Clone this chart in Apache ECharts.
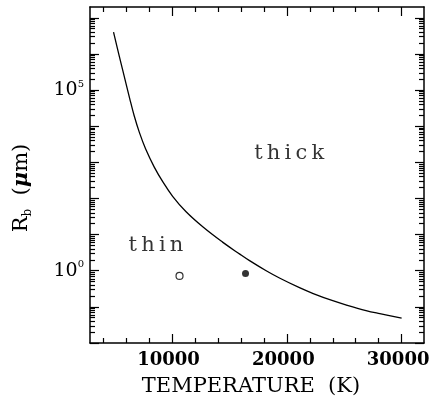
<!DOCTYPE html>
<html>
<head>
<meta charset="utf-8">
<script src="https://cdn.jsdelivr.net/npm/echarts@6/dist/echarts.min.js"></script>
<style>
  html, body { margin: 0; padding: 0; background: #fff; }
  #main { width: 430px; height: 405px; }
</style>
</head>
<body>
<div id="main"></div>
<script>
// thin / thick boundary, R_b in micron vs temperature in K
const curveT = [4900, 5400, 5700, 6300, 6700, 7150, 7700, 8450, 9200, 10050, 11200, 12700,
  14400, 15900, 16750, 18200, 19400, 21100, 22300, 24000, 25200, 26900, 28100, 30000]
const curveR = [4.0e6, 8.7e5, 3.55e5, 6.0e4, 1.95e4, 6760, 2340, 740, 288, 115, 43.6, 16.2,
  6.2, 2.88, 1.9, 1.0, 0.62, 0.34, 0.234, 0.148, 0.112, 0.079, 0.065, 0.049]

// the two objects
const openPoint = [10650, 0.72]
const filledPoint = [16400, 0.84]

// region names
const regionNames = ['thin', 'thick']
const regionT = [8600, 20200]
const regionR = [5.1, 1800]

// axes
const xRange = [2850, 31950]
const xLabels = [10000, 20000, 30000]
const xMinorTicks = [4000, 6000, 8000, 12000, 14000, 16000, 18000, 22000, 24000, 26000, 28000]
const yRange = [-2, 7.3] // log10 of R_b
const yDecades = [-2, -1, 0, 1, 2, 3, 4, 5, 6, 7]
const yLabelDecades = [0, 5]

const font = 'DejaVu Serif'
const lg = v => Math.log10(v)

const yMinorTicks = []
yDecades.forEach(function (e) {
  for (let k = 2; k <= 9; k++) {
    const v = e + lg(k)
    if (v < yRange[1]) yMinorTicks.push(v)
  }
})

const black = '#000'
const line = { show: true, onZero: false, lineStyle: { color: black, width: 1.5 } }
const noLine = { show: false, onZero: false }

function xAxis (position, ticks, len, withLine, withLabel) {
  const ax = {
    type: 'value',
    position: position,
    min: xRange[0],
    max: xRange[1],
    axisLine: withLine ? line : noLine,
    axisTick: { inside: true, length: len, customValues: ticks, lineStyle: { color: black, width: 1.2 } },
    axisLabel: { show: false },
    splitLine: { show: false }
  }
  if (withLabel) {
    ax.axisLabel = {
      customValues: xLabels,
      formatter: v => String(v),
      color: black,
      fontFamily: font,
      fontSize: 18,
      fontWeight: 'bold',
      padding: [0, 7, 0, 0],
      margin: 8
    }
    ax.name = 'TEMPERATURE  (K)'
    ax.nameLocation = 'middle'
    ax.nameGap = 33
    ax.nameTextStyle = { color: black, fontFamily: font, fontSize: 21, padding: [0, 12, 0, 0] }
  }
  return ax
}

function yAxis (position, ticks, len, withLine, withLabel) {
  const ax = {
    type: 'value',
    position: position,
    min: yRange[0],
    max: yRange[1],
    axisLine: withLine ? line : noLine,
    axisTick: { inside: true, length: len, customValues: ticks, lineStyle: { color: black, width: 1.2 } },
    axisLabel: { show: false },
    splitLine: { show: false }
  }
  if (withLabel) {
    ax.axisLabel = {
      customValues: yLabelDecades,
      margin: 6,
      formatter: function (v) {
        return '{b|10}{s|' + Math.round(v) + '}'
      },
      rich: {
        b: { color: black, fontFamily: font, fontSize: 19 },
        s: { color: black, fontFamily: font, fontSize: 10, padding: [0, 0, 12, 0] }
      }
    }
    ax.name = '{r|R}{sub|b}{r|  (}{mu|μ}{r|m)}'
    ax.nameLocation = 'middle'
    ax.nameGap = 56
    ax.nameTextStyle = {
      padding: [0, 26, 0, 0],
      rich: {
        r: { color: black, fontFamily: font, fontSize: 21 },
        sub: { color: black, fontFamily: font, fontSize: 12, padding: [12, 0, 0, 0] },
        mu: { color: black, fontFamily: font, fontSize: 21, fontStyle: 'italic', fontWeight: 'bold' }
      }
    }
  }
  return ax
}

const chart = echarts.init(document.getElementById('main'))
chart.setOption({
  animation: false,
  backgroundColor: '#fff',
  grid: { left: 90, right: 6, top: 7, bottom: 62, outerBoundsMode: 'none' },
  xAxis: [
    xAxis('bottom', xLabels, 9, true, true),
    xAxis('bottom', xMinorTicks, 5, false, false),
    xAxis('top', xLabels, 9, true, false),
    xAxis('top', xMinorTicks, 5, false, false)
  ],
  yAxis: [
    yAxis('left', yDecades, 9, true, true),
    yAxis('left', yMinorTicks, 5, false, false),
    yAxis('right', yDecades, 9, true, false),
    yAxis('right', yMinorTicks, 5, false, false)
  ],
  series: [
    {
      type: 'line',
      data: curveT.map((t, i) => [t, lg(curveR[i])]),
      smooth: 0.4,
      showSymbol: false,
      lineStyle: { color: black, width: 1.3 }
    },
    {
      type: 'scatter',
      data: [[openPoint[0], lg(openPoint[1])]],
      symbol: 'circle',
      symbolSize: 7,
      itemStyle: { color: '#fff', borderColor: black, borderWidth: 1.2 }
    },
    {
      type: 'scatter',
      data: [[filledPoint[0], lg(filledPoint[1])]],
      symbol: 'circle',
      symbolSize: 7,
      itemStyle: { color: black }
    },
    {
      type: 'scatter',
      data: regionNames.map((n, i) => ({ name: n, value: [regionT[i], lg(regionR[i])] })),
      symbolSize: 0,
      label: {
        show: true,
        position: 'inside',
        color: black,
        fontFamily: font,
        fontSize: 21,
        formatter: p => p.name.split('').join('\u2009')
      }
    }
  ]
})
</script>
</body>
</html>
